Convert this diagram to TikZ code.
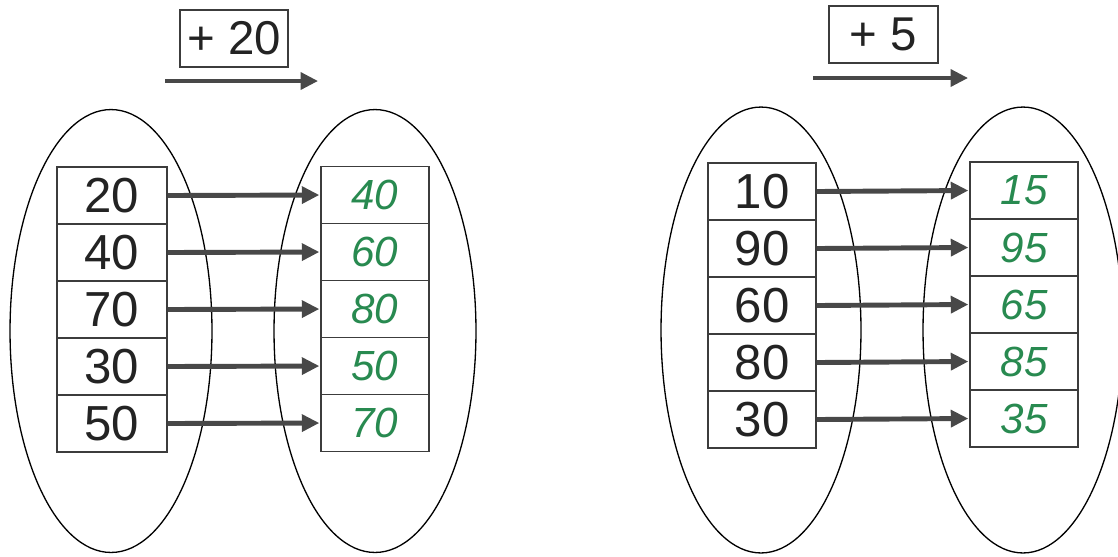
\documentclass[tikz,border=0pt]{standalone}
\usepackage{fontspec}
\setmainfont{Liberation Sans}
\usetikzlibrary{arrows.meta,shapes.geometric}
\definecolor{ink}{RGB}{35,35,35}
\definecolor{arrowgray}{RGB}{72,72,72}
\definecolor{boxgray}{RGB}{60,60,60}
\definecolor{handgreen}{RGB}{40,138,80}
\tikzset{
  cell/.style={draw=boxgray, line width=0.9pt, fill=white, rectangle, inner sep=0pt,
    minimum width=2.18cm, minimum height=1.14cm, text=ink,
    font=\fontsize{28}{32}\selectfont},
  outcell/.style={cell, text=handgreen, font=\fontsize{24}{28}\selectfont\itshape},
  opbox/.style={cell, font=\fontsize{27}{32}\selectfont},
  setoval/.style={draw=black, line width=0.75pt, ellipse, inner sep=0pt},
  conn/.style={draw=arrowgray, line width=2.8pt, -{Triangle[length=10pt,width=9.5pt]}, shorten >=0.5pt}
}
\begin{document}
\begin{tikzpicture}[x=0.02cm,y=-0.02cm]
\useasboundingbox (0,0) rectangle (1118,556);
% ellipses
\node[setoval, minimum width=4.04cm, minimum height=8.86cm] (e1) at (111,331) {};
\node[setoval, minimum width=4.04cm, minimum height=8.86cm] (e2) at (375,331) {};
\node[setoval, minimum width=4.0cm, minimum height=8.92cm] (e3) at (761,330) {};
\node[setoval, minimum width=4.0cm, minimum height=8.92cm] (e4) at (1023,330) {};
% operation boxes
\node[opbox, minimum width=2.16cm] (op1) at (234,38.5) {+ 20};
\node[opbox, minimum width=2.18cm] (op2) at (883.5,34.5) {+ 5};
\coordinate (t1s) at (165,81); \coordinate (t1e) at (319,81);
\coordinate (t2s) at (813,78); \coordinate (t2e) at (969,78);
\draw[conn] (t1s) -- (t1e);
\draw[conn] (t2s) -- (t2e);
% left panel
\foreach \v [count=\i] in {20,40,70,30,50}
  \node[cell, minimum width=2.2cm] (a\i) at (112,{195.5+57*(\i-1)}) {\v};
\foreach \v [count=\i] in {40,60,80,50,70}
  \node[outcell, minimum width=2.16cm] (b\i) at (375,{195+57*(\i-1)}) {\v};
% right panel
\foreach \v [count=\i] in {10,90,60,80,30}
  \node[cell, minimum width=2.16cm] (c\i) at (762,{191.5+57*(\i-1)}) {\v};
\foreach \v [count=\i] in {15,95,65,85,35}
  \node[outcell, minimum width=2.16cm] (d\i) at (1024,{190.5+57*(\i-1)}) {\v};
% connectors
\foreach \i in {1,...,5} {
  \draw[conn] (a\i.east) -- (b\i.west);
  \draw[conn] (c\i.east) -- (d\i.west);
}
\end{tikzpicture}
\end{document}
